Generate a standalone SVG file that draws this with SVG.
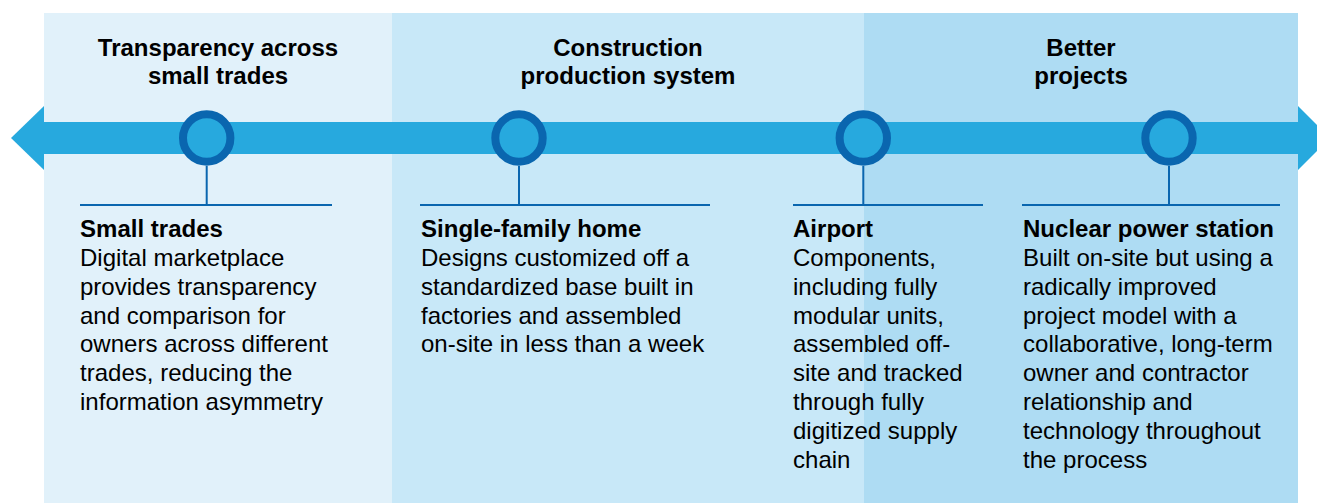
<svg xmlns="http://www.w3.org/2000/svg" width="1317" height="503" viewBox="0 0 1317 503">
<style>
.hdr{font-family:"Liberation Sans",Arial,sans-serif;font-weight:bold;font-size:23px;fill:#000;text-anchor:middle}
.body{font-family:"Liberation Sans",Arial,sans-serif;font-size:23px;fill:#000}
.ttl{font-weight:bold}
.ring{fill:#27A9DE;stroke:#0A66AF;stroke-width:8}
.ln{stroke:#0A66AF;stroke-width:2;fill:none}
</style>
<rect x="0" y="0" width="1317" height="503" fill="#FFFFFF"/>
<g id="panels">
<rect x="44" y="13" width="348" height="490" fill="#E1F1FA"/>
<rect x="392" y="13" width="472" height="490" fill="#C8E8F8"/>
<rect x="864" y="13" width="434" height="490" fill="#AEDCF3"/>
</g>
<g id="headers">
<g transform="translate(218,0) scale(1.045,1)"><text class="hdr" x="0" y="56.5">Transparency across</text><text class="hdr" x="0" y="84.5">small trades</text></g>
<g transform="translate(628,0) scale(1.045,1)"><text class="hdr" x="0" y="56.5">Construction</text><text class="hdr" x="0" y="84.5">production system</text></g>
<g transform="translate(1081,0) scale(1.045,1)"><text class="hdr" x="0" y="56.5">Better</text><text class="hdr" x="0" y="84.5">projects</text></g>
</g>
<g id="timeline">
<rect x="44" y="122" width="1254" height="32" fill="#27A9DE"/>
<polygon points="44,106 11,138 44,170" fill="#27A9DE"/>
<polygon points="1298,106 1330,138 1298,170" fill="#27A9DE"/>
</g>
<g id="connectors">
<line class="ln" x1="206.7" y1="166" x2="206.7" y2="205"/>
<line class="ln" x1="519" y1="166" x2="519" y2="205"/>
<line class="ln" x1="863.3" y1="166" x2="863.3" y2="205"/>
<line class="ln" x1="1169" y1="166" x2="1169" y2="205"/>
</g>
<g id="node-small-trades">
<circle class="ring" cx="206.7" cy="138" r="23.7"/>
<line class="ln" x1="80" y1="205" x2="332" y2="205"/>
<g transform="translate(80,0) scale(1.045,1)">
<text class="body"><tspan class="ttl" x="0" y="237.3">Small trades</tspan><tspan x="0" y="266.1">Digital marketplace</tspan><tspan x="0" y="294.9">provides transparency</tspan><tspan x="0" y="323.7">and comparison for</tspan><tspan x="0" y="352.5">owners across different</tspan><tspan x="0" y="381.3">trades, reducing the</tspan><tspan x="0" y="410.1">information asymmetry</tspan></text>
</g>
</g>
<g id="node-single-family-home">
<circle class="ring" cx="519" cy="138" r="23.7"/>
<line class="ln" x1="420" y1="205" x2="710" y2="205"/>
<g transform="translate(421,0) scale(1.045,1)">
<text class="body"><tspan class="ttl" x="0" y="237.3">Single-family home</tspan><tspan x="0" y="266.1">Designs customized off a</tspan><tspan x="0" y="294.9">standardized base built in</tspan><tspan x="0" y="323.7">factories and assembled</tspan><tspan x="0" y="352.5">on-site in less than a week</tspan></text>
</g>
</g>
<g id="node-airport">
<circle class="ring" cx="863.3" cy="138" r="23.7"/>
<line class="ln" x1="793" y1="205" x2="983" y2="205"/>
<g transform="translate(793,0) scale(1.045,1)">
<text class="body"><tspan class="ttl" x="0" y="237.3">Airport</tspan><tspan x="0" y="266.1">Components,</tspan><tspan x="0" y="294.9">including fully</tspan><tspan x="0" y="323.7">modular units,</tspan><tspan x="0" y="352.5">assembled off-</tspan><tspan x="0" y="381.3">site and tracked</tspan><tspan x="0" y="410.1">through fully</tspan><tspan x="0" y="438.9">digitized supply</tspan><tspan x="0" y="467.7">chain</tspan></text>
</g>
</g>
<g id="node-nuclear-power-station">
<circle class="ring" cx="1169" cy="138" r="23.7"/>
<line class="ln" x1="1022" y1="205" x2="1280" y2="205"/>
<g transform="translate(1023,0) scale(1.045,1)">
<text class="body"><tspan class="ttl" x="0" y="237.3">Nuclear power station</tspan><tspan x="0" y="266.1">Built on-site but using a</tspan><tspan x="0" y="294.9">radically improved</tspan><tspan x="0" y="323.7">project model with a</tspan><tspan x="0" y="352.5">collaborative, long-term</tspan><tspan x="0" y="381.3">owner and contractor</tspan><tspan x="0" y="410.1">relationship and</tspan><tspan x="0" y="438.9">technology throughout</tspan><tspan x="0" y="467.7">the process</tspan></text>
</g>
</g>
</svg>
